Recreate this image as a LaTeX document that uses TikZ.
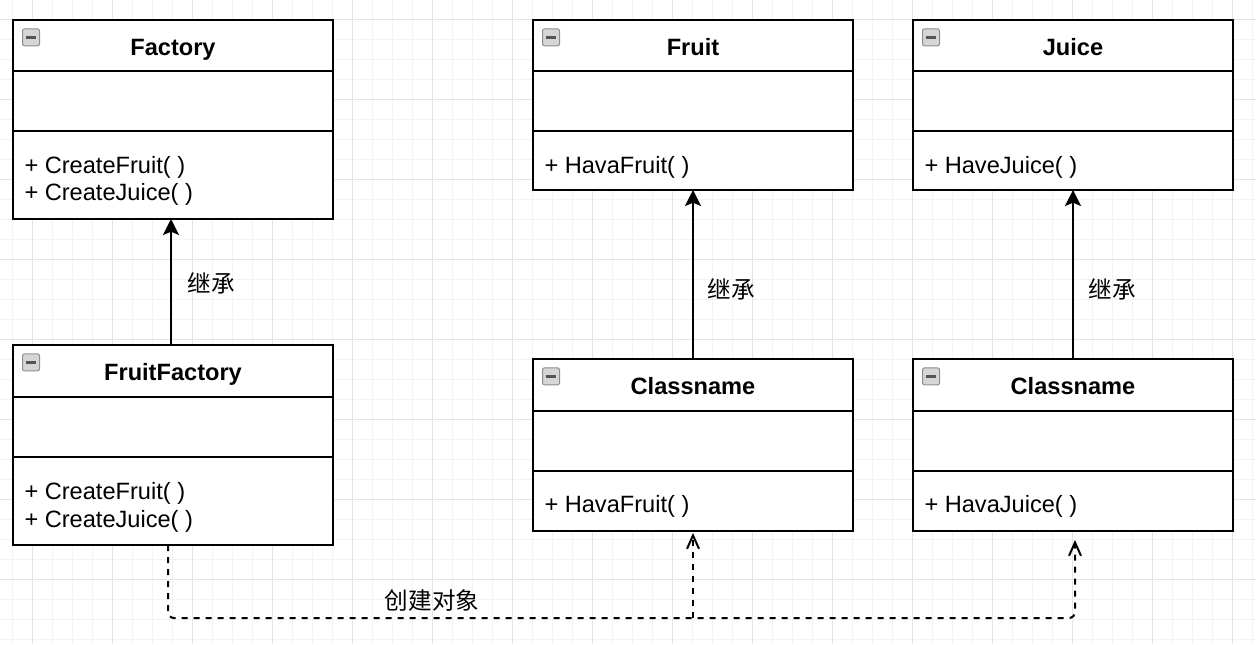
\documentclass[tikz,border=0pt]{standalone}
\usepackage{fontspec}
\setmainfont{Liberation Sans}
\newfontfamily\cjk{Noto Sans CJK SC}
\usetikzlibrary{positioning,arrows.meta}

\definecolor{gridminor}{HTML}{F3F3F3}
\definecolor{gridmajor}{HTML}{E4E4E4}
\definecolor{iconfill}{HTML}{D6D6D6}
\definecolor{iconline}{HTML}{8E8E8E}
\definecolor{iconbar}{HTML}{555555}

\tikzset{every picture/.style={line width=0.75pt}}

\begin{document}
\begin{tikzpicture}[x=0.75pt,y=0.75pt,yscale=-1,xscale=1,
  font=\fontsize{17.7}{21}\selectfont,
  classhead/.style={draw, line width=1.5pt, fill=white, anchor=north west, inner sep=0pt, outer sep=0pt,
    minimum width=240pt, minimum height=38.25pt, text height=14.9pt, text depth=0pt,
    font=\fontsize{17.7}{21}\selectfont\bfseries},
  classpart/.style={draw, line width=1.5pt, fill=white, inner sep=0pt, outer sep=0pt, minimum width=240pt},
  foldicon/.style={draw=iconline, fill=iconfill, rounded corners=1.5pt, inner sep=0pt,
    minimum size=12.75pt, line width=0.75pt,
    path picture={\draw[iconbar, line width=2.2pt]
      ([xshift=2.8pt]path picture bounding box.west) -- ([xshift=-2.8pt]path picture bounding box.east);}},
  optext/.style={anchor=west, inner sep=0pt},
  cjklabel/.style={inner sep=0pt, font=\fontsize{17.7}{21}\selectfont\cjk},
  inherit/.style={line width=1.5pt, -{Stealth[length=12pt,width=12pt,inset=2.5pt]}},
  create/.style={line width=1.5pt, dash pattern=on 4.5pt off 4.5pt, rounded corners=4.5pt,
    -{Straight Barb[length=10pt,width=9pt,line width=1.5pt]}}]
\useasboundingbox (0,0) rectangle (1256,644);

% Grid
\fill[white] (0,0) rectangle (1256,644);
\foreach \gx in {12,32,...,1252} \draw[gridminor] (\gx,0) -- (\gx,644);
\foreach \gy in {19,39,...,639} \draw[gridminor] (0,\gy) -- (1256,\gy);
\foreach \gx in {32,112,...,1232} \draw[gridmajor] (\gx,0) -- (\gx,644);
\foreach \gy in {19,99,...,579} \draw[gridmajor] (0,\gy) -- (1256,\gy);

% Class Factory
\node[classhead] (factoryhead) at (13,20) {Factory};
\node[classpart, minimum height=45pt, below=0pt of factoryhead] (factoryattr) {};
\node[classpart, minimum height=66pt, below=0pt of factoryattr] (factoryops) {};
\node[foldicon, below right=6.25pt and 6.75pt of factoryhead.north west] (factoryicon) {};
% Text Node
\node[optext] (factoryop1) at (24,167) {+ CreateFruit( )};
% Text Node
\node[optext] (factoryop2) at (24,194) {+ CreateJuice( )};

% Class FruitFactory
\node[classhead, minimum height=39pt] (fruitfactoryhead) at (13,345) {FruitFactory};
\node[classpart, minimum height=45pt, below=0pt of fruitfactoryhead] (fruitfactoryattr) {};
\node[classpart, minimum height=66pt, below=0pt of fruitfactoryattr] (fruitfactoryops) {};
\node[foldicon, below right=6.25pt and 6.75pt of fruitfactoryhead.north west] (fruitfactoryicon) {};
% Text Node
\node[optext] (fruitfactoryop1) at (24,493) {+ CreateFruit( )};
% Text Node
\node[optext] (fruitfactoryop2) at (24,521) {+ CreateJuice( )};

% Class Fruit
\node[classhead] (fruithead) at (533,20) {Fruit};
\node[classpart, minimum height=45pt, below=0pt of fruithead] (fruitattr) {};
\node[classpart, minimum height=44.25pt, below=0pt of fruitattr] (fruitops) {};
\node[foldicon, below right=6.25pt and 6.75pt of fruithead.north west] (fruiticon) {};
% Text Node
\node[optext] (fruitop1) at (544,167) {+ HavaFruit( )};

% Class Juice
\node[classhead] (juicehead) at (913,20) {Juice};
\node[classpart, minimum height=45pt, below=0pt of juicehead] (juiceattr) {};
\node[classpart, minimum height=44.25pt, below=0pt of juiceattr] (juiceops) {};
\node[foldicon, below right=6.25pt and 6.75pt of juicehead.north west] (juiceicon) {};
% Text Node
\node[optext] (juiceop1) at (924,167) {+ HaveJuice( )};

% Class Classname (fruit)
\node[classhead, minimum height=39pt] (fruitsubhead) at (533,359) {Classname};
\node[classpart, minimum height=45pt, below=0pt of fruitsubhead] (fruitsubattr) {};
\node[classpart, minimum height=45pt, below=0pt of fruitsubattr] (fruitsubops) {};
\node[foldicon, below right=6.25pt and 6.75pt of fruitsubhead.north west] (fruitsubicon) {};
% Text Node
\node[optext] (fruitsubop1) at (544,506) {+ HavaFruit( )};

% Class Classname (juice)
\node[classhead, minimum height=39pt] (juicesubhead) at (913,359) {Classname};
\node[classpart, minimum height=45pt, below=0pt of juicesubhead] (juicesubattr) {};
\node[classpart, minimum height=45pt, below=0pt of juicesubattr] (juicesubops) {};
\node[foldicon, below right=6.25pt and 6.75pt of juicesubhead.north west] (juicesubicon) {};
% Text Node
\node[optext] (juicesubop1) at (924,506) {+ HavaJuice( )};

% Inheritance
\draw[inherit] ([xshift=-1.5pt]fruitfactoryhead.north) -- ([xshift=-1.5pt]factoryops.south);
\draw[inherit] (fruitsubhead.north) -- (fruitops.south);
\draw[inherit] (juicesubhead.north) -- (juiceops.south);
% Text Node
\node[cjklabel] (inheritlabel1) at (211,283) {继承};
% Text Node
\node[cjklabel] (inheritlabel2) at (731,289) {继承};
% Text Node
\node[cjklabel] (inheritlabel3) at (1112,289) {继承};

% Create objects
\coordinate (createbus) at (0,618);
\draw[create] ([xshift=-3.75pt]fruitfactoryops.south) |- ([xshift=1.5pt]createbus -| juicesubops.south)
  -- ([xshift=1.5pt,yshift=6.75pt]juicesubops.south);
\draw[create, rounded corners=0pt] (createbus -| fruitsubops.south) -- ([yshift=1.5pt]fruitsubops.south);
% Text Node
\node[cjklabel] (createlabel) at (432,600) {创建对象};

\end{tikzpicture}
\end{document}
